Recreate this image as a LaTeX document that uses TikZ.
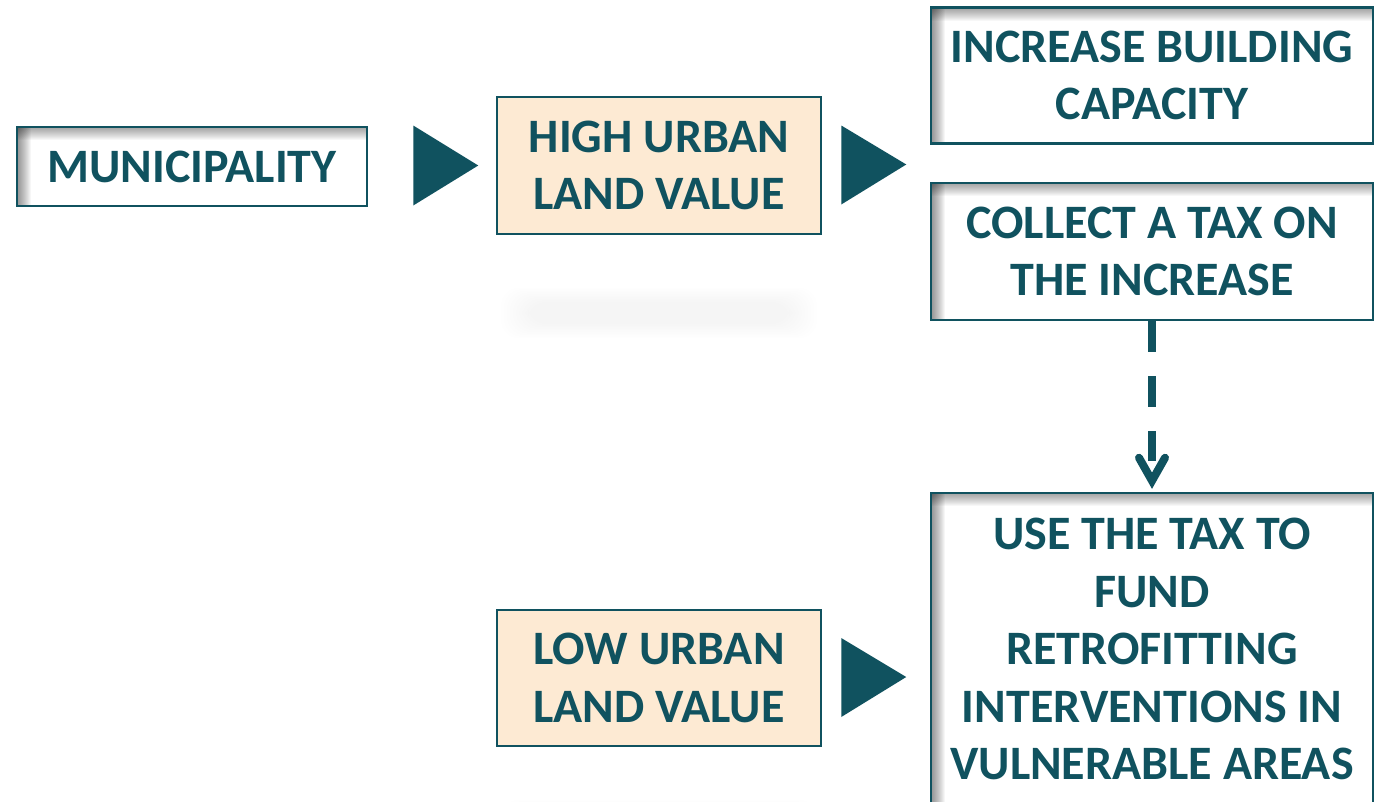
\documentclass[tikz,border=0pt]{standalone}
\usepackage{fontspec}
\setmainfont{Carlito}
\usetikzlibrary{calc}

\definecolor{deepteal}{HTML}{10525F}
\definecolor{cream}{HTML}{FDEAD3}

\tikzset{
  box/.style={draw=deepteal, line width=2.5pt, align=center, text=deepteal,
    font=\bfseries\fontsize{48}{57.5}\selectfont, inner sep=0pt},
  creambox/.style={box, fill=cream},
  % white box with a soft inset shadow along the top and left edges,
  % built from stacked translucent strips
  shadowbox/.style={box, fill=white, path picture={
      \foreach \k in {1,...,13} {
        \fill[black, opacity=0.033]
          (path picture bounding box.north west) rectangle
          ($(path picture bounding box.north east)+(0,\k)$);
        \fill[black, opacity=0.036]
          (path picture bounding box.north west) rectangle
          ($(path picture bounding box.south west)+(\k+1,0)$);
      }
    }},
  pointer/.style={fill=deepteal},
  dashline/.style={draw=deepteal, line width=8pt, dash pattern=on 31pt off 24pt},
  headline/.style={draw=deepteal, line width=8pt, line cap=round, line join=miter},
}

\begin{document}
\begin{tikzpicture}[x=1pt, y=-1pt]
\useasboundingbox (0,0) rectangle (1379,801);
\fill[white] (0,0) rectangle (1379,801);

% faint soft reflections below the cream boxes
\foreach \i in {0,...,9} {
  \fill[black, opacity=0.0055, rounded corners=18pt]
    (528-\i*3, 302-\i*1.6) rectangle (790+\i*3, 324+\i*1.6);
  \fill[black, opacity=0.0055, rounded corners=18pt]
    (528-\i*3, 814-\i*1.6) rectangle (790+\i*3, 836+\i*1.6);
}

% boxes
\node[shadowbox, minimum width=350pt, minimum height=79pt] (muni) at (192,166.5) {MUNICIPALITY};
\node[creambox, minimum width=324pt, minimum height=137pt] (high) at (659,165.5) {HIGH URBAN\\LAND VALUE};
\node[creambox, minimum width=324pt, minimum height=136pt] (low) at (659,678) {LOW URBAN\\LAND VALUE};
\node[shadowbox, minimum width=442pt, minimum height=136pt] (inc) at (1152,75.5) {INCREASE BUILDING\\CAPACITY};
\node[shadowbox, minimum width=442pt, minimum height=137pt] (col) at (1152,251.5) {COLLECT A TAX ON\\THE INCREASE};
\node[shadowbox, minimum width=442pt, minimum height=312pt] (use) at (1152,649) {USE THE TAX TO\\FUND\\RETROFITTING\\INTERVENTIONS IN\\VULNERABLE AREAS};

% solid pointers between the stages
\fill[pointer] ($(muni.east)+(45,-41)$) -- ($(muni.east)+(45,39)$) -- ($(muni.east)+(110,-1)$) -- cycle;
\fill[pointer] ($(high.east)+(19,-40)$) -- ($(high.east)+(19,39)$) -- ($(high.east)+(84,-1)$) -- cycle;
\fill[pointer] ($(low.east)+(19,-40)$) -- ($(low.east)+(19,39)$) -- ($(low.east)+(84,-1)$) -- cycle;

% dashed link from the tax collection to its use
\coordinate (shaftend) at ($(use.north)+(0,-31)$);
\coordinate (headtip) at ($(use.north)+(0,-11)$);
\coordinate (headleft) at ($(headtip)+(-13,-23)$);
\coordinate (headright) at ($(headtip)+(13,-23)$);
\draw[dashline] (col.south) -- (shaftend);
\draw[headline] (headleft) -- (headtip) -- (headright);
\end{tikzpicture}
\end{document}
